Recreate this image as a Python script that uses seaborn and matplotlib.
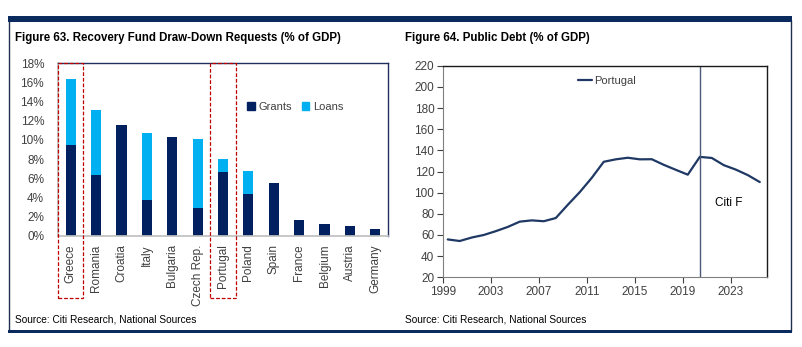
import numpy as np
import pandas as pd
import matplotlib
matplotlib.use("Agg")
import matplotlib.pyplot as plt
import matplotlib.patches as mpatches
import matplotlib.transforms as mtransforms
from matplotlib.lines import Line2D
import seaborn as sns

# ---------------- data ----------------
countries = ["Greece", "Romania", "Croatia", "Italy", "Bulgaria", "Czech Rep.",
             "Portugal", "Poland", "Spain", "France", "Belgium", "Austria", "Germany"]
grants = [9.5, 6.35, 11.6, 3.75, 10.3, 2.9, 6.7, 4.4, 5.5, 1.65, 1.28, 1.07, 0.7]
loans = [6.8, 6.75, 0.0, 6.95, 0.0, 7.2, 1.3, 2.4, 0.0, 0.0, 0.0, 0.0, 0.0]
highlighted = ["Greece", "Portugal"]

years = list(range(1999, 2026))
debt = [55.8, 54.3, 57.6, 60.0, 63.6, 67.6, 72.6, 73.8, 73.0, 76.0, 88.5, 100.5, 114.0,
        129.2, 131.5, 133.0, 131.5, 131.6, 126.3, 121.6, 117.0, 133.8, 132.8, 126.0,
        121.8, 116.6, 110.0]
forecast_start = 2020
year_ticks = list(range(1999, 2024, 4))
debt_yticks = list(range(20, 221, 20))
pct_yticks = list(range(0, 19, 2))

NAVY = "#002060"
LIGHT = "#00B0F0"
LINE = "#1F3864"
TXT = "#404040"

sns.set_theme(style="white")
plt.rcParams["font.family"] = ["Liberation Sans", "DejaVu Sans"]

W, H = 803, 347
fig = plt.figure(figsize=(W / 100, H / 100), dpi=100)

def fx(px):
    return px / W

def fy(py):
    return 1 - py / H

# outer frame
fig.add_artist(mpatches.Rectangle((fx(9), fy(331)), fx(791 - 9), (331 - 20) / H,
                                  transform=fig.transFigure, fill=False,
                                  edgecolor="#1F2F4F", linewidth=1.0))
fig.add_artist(mpatches.Rectangle((fx(8), fy(22)), fx(792 - 8), 6 / H,
                                  transform=fig.transFigure, facecolor="#0B2A5E",
                                  edgecolor="none"))
fig.add_artist(mpatches.Rectangle((fx(8), fy(332.5)), fx(792 - 8), 2.5 / H,
                                  transform=fig.transFigure, facecolor="#0B2A5E",
                                  edgecolor="none"))

# titles and sources
fig.text(fx(15), fy(38), "Figure 63. Recovery Fund Draw-Down Requests (% of GDP)",
         fontsize=8.3, fontweight="bold", color="black", va="center", ha="left")
fig.text(fx(405), fy(38), "Figure 64. Public Debt (% of GDP)",
         fontsize=8.3, fontweight="bold", color="black", va="center", ha="left")
fig.text(fx(15), fy(320), "Source: Citi Research, National Sources",
         fontsize=7.3, color="black", va="center", ha="left")
fig.text(fx(405), fy(320), "Source: Citi Research, National Sources",
         fontsize=7.3, color="black", va="center", ha="left")

# ---------------- left chart ----------------
ax1 = fig.add_axes([fx(58), fy(236), fx(388 - 58), (236 - 63) / H])
df = pd.DataFrame({"country": countries, "grants": grants, "loans": loans})
df["total"] = df["grants"] + df["loans"]
sns.barplot(data=df, x="country", y="total", color=LIGHT, width=0.4,
            saturation=1, ax=ax1, edgecolor="none")
sns.barplot(data=df, x="country", y="grants", color=NAVY, width=0.4,
            saturation=1, ax=ax1, edgecolor="none")
ax1.set_ylim(0, 18)
ax1.set_xlim(-0.5, len(countries) - 0.5)
ax1.set_yticks(pct_yticks)
ax1.set_yticklabels([f"{v}%" for v in pct_yticks])
ax1.set_xlabel("")
ax1.set_ylabel("")
ax1.tick_params(axis="x", rotation=90, labelsize=8.5, colors=TXT, pad=6, length=0)
ax1.tick_params(axis="y", labelsize=8.5, colors=TXT, pad=10, length=0)
for s in ["top", "right"]:
    ax1.spines[s].set_color("#1F2F5F")
    ax1.spines[s].set_linewidth(1.0)
ax1.spines["bottom"].set_color("#C0C0C0")
ax1.spines["left"].set_color("#C0C0C0")

trans = mtransforms.blended_transform_factory(ax1.transData, ax1.transAxes)
for c in highlighted:
    i = countries.index(c)
    ax1.add_patch(mpatches.Rectangle((i - 0.5, -0.36), 1.0, 1.36, transform=trans,
                                     fill=False, edgecolor="#C00000", linewidth=0.9,
                                     linestyle=(0, (3, 1.5)), clip_on=False, zorder=5))

handles = [mpatches.Patch(color=NAVY, label="Grants"),
           mpatches.Patch(color=LIGHT, label="Loans")]
leg = ax1.legend(handles=handles, ncol=2, frameon=False, loc="center left",
                 bbox_to_anchor=(0.573, 0.745), fontsize=8, handlelength=0.7,
                 handleheight=0.7, handletextpad=0.3, columnspacing=0.9,
                 borderpad=0, borderaxespad=0)
for t in leg.get_texts():
    t.set_color(TXT)

# ---------------- right chart ----------------
ax2 = fig.add_axes([fx(442.7), fy(277.3), fx(767 - 442.7), (277.3 - 65.7) / H])
dfl = pd.DataFrame({"year": years, "Portugal": debt})
sns.lineplot(data=dfl, x="year", y="Portugal", color=LINE, linewidth=1.6, ax=ax2,
             legend=False)
ax2.axvline(forecast_start, color="#4A5A78", linewidth=1.0)
ax2.text(forecast_start + 1.3, 90, "Citi F", fontsize=8.5, color="black",
         va="center", ha="left")
ax2.set_ylim(20, 220)
ax2.set_xlim(1999 - 0.42, 2025.6)
ax2.set_yticks(debt_yticks)
ax2.set_xticks([y - 0.42 for y in year_ticks])
ax2.set_xticklabels([str(y) for y in year_ticks])
ax2.set_xlabel("")
ax2.set_ylabel("")
ax2.tick_params(axis="both", labelsize=8.5, colors=TXT, length=4, width=0.8,
                direction="out", bottom=True, left=True)
ax2.tick_params(axis="x", pad=2)
ax2.tick_params(axis="y", pad=2)
for s in ["top", "right"]:
    ax2.spines[s].set_color("#1A1A1A")
    ax2.spines[s].set_linewidth(1.0)
for s in ["bottom", "left"]:
    ax2.spines[s].set_color("#808080")
    ax2.spines[s].set_linewidth(0.8)
leg2 = ax2.legend(handles=[Line2D([0], [0], color=LINE, linewidth=1.6, label="Portugal")],
                  frameon=False, loc="center left", bbox_to_anchor=(0.417, 0.93),
                  fontsize=8, handlelength=1.3, handletextpad=0.15,
                  borderpad=0, borderaxespad=0)
for t in leg2.get_texts():
    t.set_color(TXT)

fig.savefig("out.png", dpi=100)
